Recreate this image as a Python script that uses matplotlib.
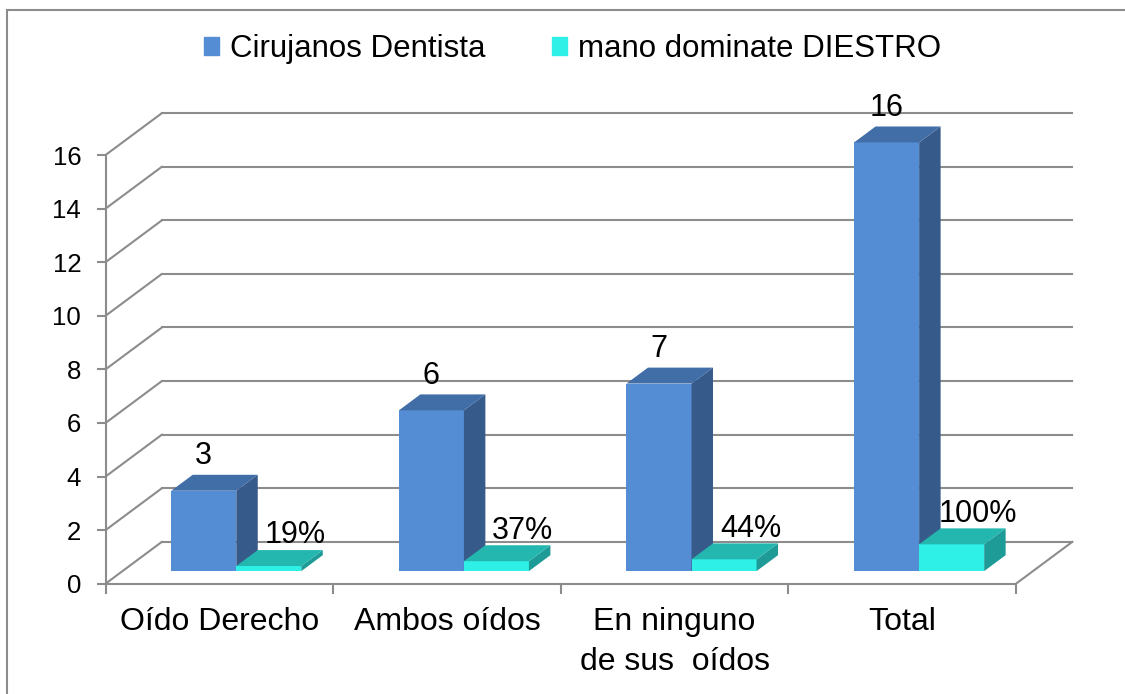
import matplotlib
matplotlib.use("Agg")
import matplotlib.pyplot as plt
from matplotlib import transforms as mtransforms
from matplotlib.patches import Polygon, Rectangle, Patch, ConnectionPatch

plt.rcParams['font.family'] = ['Liberation Sans', 'DejaVu Sans']

# datos
categories = ["Oído Derecho", "Ambos oídos", "En ninguno\nde sus  oídos", "Total"]
cirujanos = [3, 6, 7, 16]
diestro = [0.19, 0.37, 0.44, 1.00]
y_ticks = [0, 2, 4, 6, 8, 10, 12, 14, 16]
series_names = ["Cirujanos Dentista", "mano dominate DIESTRO"]

# estilo
GRID = '#8c8c8c'
BLUE = {'front': '#558dd5', 'side': '#365a8a', 'top': '#426ea8'}
CYAN = {'front': '#2ef0e6', 'side': '#1e9b96', 'top': '#23b7af'}
DEPTH = (0.565, 0.42)      # desplazamiento de la pared trasera (pulgadas)
BAR_D0, BAR_D1 = 0.30, 0.68  # profundidad de las barras
BAR_W = 1 / 3.5              # gap width 150%

fig = plt.figure(figsize=(11.25, 6.94), dpi=100)
fig.patch.set_facecolor('white')
ax = fig.add_axes([0.0938, 0.1589, 0.8093, 0.6177])
ax.set_xlim(-0.5, 3.5)
ax.set_ylim(0, 16)
ax.patch.set_visible(False)


def depth_trans(d):
    return ax.transData + mtransforms.ScaledTranslation(
        d * DEPTH[0], d * DEPTH[1], fig.dpi_scale_trans)


def proj(x, v, d):
    return depth_trans(d).transform((x, v))


# pared trasera y lateral
back = depth_trans(1.0)
for v in y_ticks:
    ax.plot([-0.5, 3.5], [v, v], transform=back, color=GRID, lw=1.5,
            clip_on=False, zorder=1)
    ax.add_artist(ConnectionPatch((-0.5, v), (-0.5, v), coordsA=ax.transData,
                                  coordsB=back, color=GRID, lw=1.5, zorder=1))
ax.add_artist(ConnectionPatch((3.5, 0), (3.5, 0), coordsA=ax.transData,
                              coordsB=back, color=GRID, lw=1.5, zorder=1))


def draw_bar(xc, h, colors, z):
    x0, x1 = xc - BAR_W / 2, xc + BAR_W / 2
    ax.bar([xc], [h], width=BAR_W, transform=depth_trans(BAR_D0),
           color=colors['front'], lw=0, zorder=z, clip_on=False)
    side = [proj(x1, 0, BAR_D0), proj(x1, h, BAR_D0),
            proj(x1, h, BAR_D1), proj(x1, 0, BAR_D1)]
    top = [proj(x0, h, BAR_D0), proj(x1, h, BAR_D0),
           proj(x1, h, BAR_D1), proj(x0, h, BAR_D1)]
    for pts, c in ((side, colors['side']), (top, colors['top'])):
        ax.add_patch(Polygon(pts, closed=True, facecolor=c, lw=0,
                             transform=mtransforms.IdentityTransform(),
                             clip_on=False, zorder=z))


front = depth_trans(BAR_D0)
for i in range(len(categories)):
    xb = i - BAR_W / 2
    xc = i + BAR_W / 2
    draw_bar(xb, cirujanos[i], BLUE, 3 + 2 * i)
    draw_bar(xc, diestro[i], CYAN, 4 + 2 * i)
    ax.annotate(f"{cirujanos[i]}", xy=(xb, cirujanos[i]), xycoords=front,
                xytext=(0, 25), textcoords='offset points',
                ha='center', va='center', fontsize=22, zorder=20)
    ax.annotate(f"{diestro[i]:.0%}", xy=(xc, diestro[i]), xycoords=front,
                xytext=(19, 22), textcoords='offset points',
                ha='center', va='center', fontsize=22, zorder=20)

# ejes
for s in ('top', 'right'):
    ax.spines[s].set_visible(False)
for s in ('left', 'bottom'):
    ax.spines[s].set_color(GRID)
    ax.spines[s].set_linewidth(1.5)
    ax.spines[s].set_zorder(2)

ax.set_yticks(y_ticks)
ax.tick_params(axis='y', direction='out', length=6.5, width=1.5, color=GRID,
               pad=11, labelsize=18.5)
ax.set_xticks(range(len(categories)))
ax.set_xticklabels(categories, fontsize=23, linespacing=1.4)
ax.set_xticks([i - 0.5 for i in range(len(categories) + 1)], minor=True)
ax.tick_params(axis='x', which='major', length=0, pad=17)
ax.tick_params(axis='x', which='minor', direction='out', length=7.5,
               width=1.5, color=GRID)

# leyenda
handles = [Patch(color=BLUE['front']), Patch(color=CYAN['front'])]
fig.legend(handles, series_names, loc='center', bbox_to_anchor=(0.509, 0.929),
           ncol=2, frameon=False, fontsize=22.5, handlelength=0.5,
           handleheight=0.5, handletextpad=0.36, columnspacing=2.1)

# borde del gráfico
fig.patches.append(Rectangle((7 / 1125, -0.1), 1.2, 1.1 - 10 / 694, fill=False,
                             edgecolor=GRID, lw=1.5, transform=fig.transFigure,
                             figure=fig))

fig.savefig('out.png', dpi=100)
